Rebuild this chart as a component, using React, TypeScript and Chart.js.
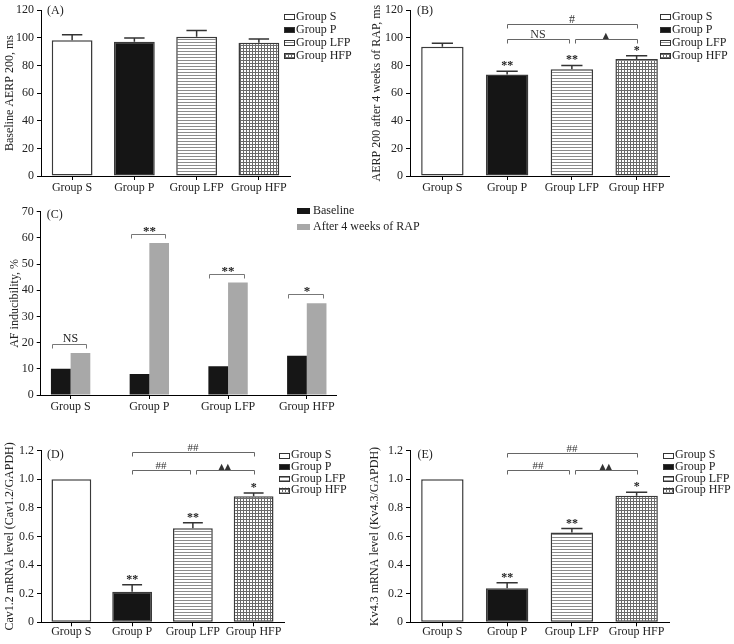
import React, { useEffect, useRef } from 'react';
import { Chart, registerables } from 'chart.js';

Chart.register(...registerables);

const PAGE_W = 734;
const PAGE_H = 644;
const SERIF = "'Liberation Serif', 'Times New Roman', Times, serif";
const SYMBOL = "'DejaVu Sans', sans-serif";
const INK = '#222222';

// ---------------- data ----------------
const groups = ['Group S', 'Group P', 'Group LFP', 'Group HFP'];

// (A) baseline AERP200, ms
const aerpBaseline = [98.2, 97.1, 100.8, 96.4];
const aerpBaselineSD = [4.1, 2.8, 4.5, 2.8];
const ticksAERP = [0, 20, 40, 60, 80, 100, 120];

// (B) AERP200 after 4 weeks of RAP, ms
const aerpRap = [93.5, 73.4, 77.2, 84.7];
const aerpRapSD = [2.6, 2.4, 2.8, 2.4];
const starsB = ['', '**', '**', '*'];
const bracketsB = [
  { from: 1, to: 3, value: 110.3, label: '#' },
  { from: 1, to: 2, value: 99.4, label: 'NS' },
  { from: 2, to: 3, value: 99.4, label: '▲' },
];

// (C) AF inducibility, %
const seriesC = ['Baseline', 'After 4 weeks of RAP'];
const afBaseline = [10, 8, 11, 15];
const afRap = [16, 58, 43, 35];
const ticksC = [0, 10, 20, 30, 40, 50, 60, 70];
const bracketsC = [
  { value: 19.4, label: 'NS' },
  { value: 61.3, label: '**' },
  { value: 46.1, label: '**' },
  { value: 38.4, label: '*' },
];

// (D) Cav1.2 mRNA
const cavMrna = [1.0, 0.213, 0.657, 0.88];
const cavMrnaSD = [0, 0.05, 0.039, 0.023];
const starsD = ['', '**', '**', '*'];
const bracketsD = [
  { from: 1, to: 3, value: 1.19, label: '##' },
  { from: 1, to: 2, value: 1.065, label: '##' },
  { from: 2, to: 3, value: 1.065, label: '▲▲' },
];

// (E) Kv4.3 mRNA
const kvMrna = [1.0, 0.237, 0.627, 0.884];
const kvMrnaSD = [0, 0.039, 0.028, 0.025];
const starsE = ['', '**', '**', '*'];
const bracketsE = [
  { from: 1, to: 3, value: 1.185, label: '##' },
  { from: 1, to: 2, value: 1.065, label: '##' },
  { from: 2, to: 3, value: 1.065, label: '▲▲' },
];
const ticksMrna = [0, 0.2, 0.4, 0.6, 0.8, 1.0, 1.2];

// ---------------- helpers ----------------
const tickFont = { family: SERIF, size: 12 };

function makeFills(ctx: CanvasRenderingContext2D): any[] {
  const stripe = document.createElement('canvas');
  stripe.width = 3;
  stripe.height = 3;
  const s = stripe.getContext('2d')!;
  s.fillStyle = '#ffffff';
  s.fillRect(0, 0, 3, 3);
  s.fillStyle = '#8c8c8c';
  s.fillRect(0, 0, 3, 1);
  const grid = document.createElement('canvas');
  grid.width = 3;
  grid.height = 3;
  const g = grid.getContext('2d')!;
  g.fillStyle = '#ffffff';
  g.fillRect(0, 0, 3, 3);
  g.fillStyle = '#6a6a6a';
  g.fillRect(0, 0, 3, 1);
  g.fillRect(0, 0, 1, 3);
  return ['#ffffff', '#151515', ctx.createPattern(stripe, 'repeat'), ctx.createPattern(grid, 'repeat')];
}

function yScale(title: string, ticks: number[], fmt: (v: number) => string, width: number) {
  return {
    type: 'linear',
    min: ticks[0],
    max: ticks[ticks.length - 1],
    afterBuildTicks: (s: any) => {
      s.ticks = ticks.map((v) => ({ value: v }));
    },
    ticks: { color: INK, font: tickFont, padding: 3, callback: (v: any) => fmt(Number(v)) },
    grid: { drawOnChartArea: false, drawTicks: true, tickLength: 4, color: '#000' },
    border: { display: true, color: '#000', width: 1 },
    title: { display: true, text: title, color: INK, font: tickFont, padding: 0 },
    afterFit: (s: any) => {
      s.width = width;
    },
  };
}

function xAxisCommon(pad: number) {
  return {
    ticks: { color: INK, font: tickFont, padding: pad, maxRotation: 0, minRotation: 0, autoSkip: false },
    grid: { drawOnChartArea: false, drawTicks: true, tickLength: 4, color: '#000', offset: false },
    border: { display: true, color: '#000', width: 1 },
    afterFit: (s: any) => {
      s.height = 20;
    },
  };
}

type Area = { l: number; t: number; r: number; b: number };

function padFor(area: Area, axisWidth: number) {
  return { left: area.l - axisWidth, top: area.t, right: PAGE_W - area.r, bottom: PAGE_H - area.b - 20 };
}

interface BarSpec {
  area: Area;
  axisWidth: number;
  xPad: number;
  title: string;
  panel: string;
  panelPos: [number, number];
  values: number[];
  sd: number[];
  yTicks: number[];
  yFmt: (v: number) => string;
  stars: string[];
  brackets: { from: number; to: number; value: number; label: string }[];
  legendPos: [number, number];
  legendStep: number;
  bracketFont: number;
}

function drawPanelLabel(ctx: CanvasRenderingContext2D, text: string, x: number, y: number) {
  ctx.fillStyle = INK;
  ctx.font = `12px ${SERIF}`;
  ctx.textAlign = 'left';
  ctx.textBaseline = 'middle';
  ctx.fillText(text, x, y);
}

function barOverlay(spec: BarSpec) {
  return {
    id: 'barOverlay',
    afterDatasetsDraw(chart: any) {
      const ctx: CanvasRenderingContext2D = chart.ctx;
      const ys = chart.scales.y;
      const bars = chart.getDatasetMeta(0).data as any[];
      const ca = chart.chartArea;
      const fills = chart.data.datasets[0].backgroundColor as any[];
      ctx.save();
      // error bars
      ctx.strokeStyle = '#333';
      ctx.lineWidth = 1.5;
      spec.values.forEach((v, i) => {
        const sd = spec.sd[i];
        if (!sd) return;
        const b = bars[i];
        const y0 = ys.getPixelForValue(v);
        const y1 = ys.getPixelForValue(v + sd);
        const hw = b.width * 0.25;
        ctx.beginPath();
        ctx.moveTo(b.x, y0);
        ctx.lineTo(b.x, y1);
        ctx.moveTo(b.x - hw, y1);
        ctx.lineTo(b.x + hw, y1);
        ctx.stroke();
      });
      // significance stars
      ctx.fillStyle = INK;
      ctx.textAlign = 'center';
      ctx.textBaseline = 'alphabetic';
      ctx.font = `bold 12px ${SERIF}`;
      spec.stars.forEach((s, i) => {
        if (!s) return;
        const top = ys.getPixelForValue(spec.values[i] + (spec.sd[i] || 0));
        ctx.fillText(s, bars[i].x, top - 2);
      });
      // brackets
      spec.brackets.forEach((br) => {
        const same = spec.brackets.filter((o) => o !== br && o.value === br.value);
        const x1 = bars[br.from].x + (same.some((o) => o.to === br.from) ? 3 : 0);
        const x2 = bars[br.to].x - (same.some((o) => o.from === br.to) ? 3 : 0);
        const y = Math.round(ys.getPixelForValue(br.value)) + 0.5;
        ctx.strokeStyle = '#666';
        ctx.lineWidth = 1;
        ctx.beginPath();
        ctx.moveTo(Math.round(x1) + 0.5, y + 4);
        ctx.lineTo(Math.round(x1) + 0.5, y);
        ctx.lineTo(Math.round(x2) + 0.5, y);
        ctx.lineTo(Math.round(x2) + 0.5, y + 4);
        ctx.stroke();
        ctx.fillStyle = '#333';
        ctx.font = br.label.includes('▲') ? `8px ${SYMBOL}` : `${spec.bracketFont}px ${SERIF}`;
        ctx.fillText(br.label, (x1 + x2) / 2, y - 1.5);
      });
      // legend
      const lx = ca.right + spec.legendPos[0];
      groups.forEach((g, i) => {
        const ly = ca.top + spec.legendPos[1] + i * spec.legendStep;
        ctx.fillStyle = fills[i];
        ctx.fillRect(lx, ly - 2.5, 11, 5);
        ctx.strokeStyle = '#333';
        ctx.lineWidth = 1;
        ctx.strokeRect(lx + 0.5, Math.round(ly - 2.5) + 0.5, 10, 5);
        ctx.fillStyle = INK;
        ctx.font = `12px ${SERIF}`;
        ctx.textAlign = 'left';
        ctx.textBaseline = 'middle';
        ctx.fillText(g, lx + 12, ly);
      });
      drawPanelLabel(ctx, spec.panel, ca.left + spec.panelPos[0], ca.top + spec.panelPos[1]);
      ctx.restore();
    },
  };
}

function barConfig(spec: BarSpec) {
  return (ctx: CanvasRenderingContext2D) => ({
    type: 'bar',
    data: {
      labels: groups,
      datasets: [
        {
          data: spec.values,
          backgroundColor: makeFills(ctx),
          borderColor: '#3a3a3a',
          borderWidth: 1.5,
          borderSkipped: false,
          barPercentage: 0.655,
          categoryPercentage: 1,
        },
      ],
    },
    options: {
      responsive: false,
      animation: false,
      devicePixelRatio: 1,
      events: [],
      layout: { padding: padFor(spec.area, spec.axisWidth) },
      plugins: { legend: { display: false }, tooltip: { enabled: false } },
      scales: {
        x: { type: 'category', offset: true, ...xAxisCommon(spec.xPad) },
        y: yScale(spec.title, spec.yTicks, spec.yFmt, spec.axisWidth),
      },
    },
    plugins: [barOverlay(spec)],
  });
}

const intFmt = (v: number) => String(Math.round(v));
const decFmt = (v: number) => (v === 0 ? '0' : v.toFixed(1));

const buildA = barConfig({
  area: { l: 41, t: 7.3, r: 290, b: 176 },
  axisWidth: 38.2,
  xPad: 1.1,
  title: 'Baseline AERP 200, ms',
  panel: '(A)',
  panelPos: [6, 0.5],
  values: aerpBaseline,
  sd: aerpBaselineSD,
  yTicks: ticksAERP,
  yFmt: intFmt,
  stars: ['', '', '', ''],
  brackets: [],
  legendPos: [-6, 6.7],
  legendStep: 13,
  bracketFont: 12,
});

const buildB = barConfig({
  area: { l: 410, t: 7.3, r: 669, b: 176 },
  axisWidth: 40.5,
  xPad: 1.1,
  title: 'AERP 200 after 4 weeks of RAP, ms',
  panel: '(B)',
  panelPos: [7, 0.5],
  values: aerpRap,
  sd: aerpRapSD,
  yTicks: ticksAERP,
  yFmt: intFmt,
  stars: starsB,
  brackets: bracketsB,
  legendPos: [-9, 6.7],
  legendStep: 13,
  bracketFont: 12,
});

const buildD = barConfig({
  area: { l: 41, t: 450.5, r: 284, b: 622.3 },
  axisWidth: 38.2,
  xPad: -1.8,
  title: 'Cav1.2 mRNA level (Cav1.2/GAPDH)',
  panel: '(D)',
  panelPos: [6, 4.5],
  values: cavMrna,
  sd: cavMrnaSD,
  yTicks: ticksMrna,
  yFmt: decFmt,
  stars: starsD,
  brackets: bracketsD,
  legendPos: [-5, 4.5],
  legendStep: 11.7,
  bracketFont: 11,
});

const buildE = barConfig({
  area: { l: 410, t: 450.5, r: 669, b: 622.3 },
  axisWidth: 42,
  xPad: -1.8,
  title: 'Kv4.3 mRNA level (Kv4.3/GAPDH)',
  panel: '(E)',
  panelPos: [7.5, 4.5],
  values: kvMrna,
  sd: kvMrnaSD,
  yTicks: ticksMrna,
  yFmt: decFmt,
  stars: starsE,
  brackets: bracketsE,
  legendPos: [-6, 4.5],
  legendStep: 11.7,
  bracketFont: 11,
});

const areaC: Area = { l: 40.7, t: 211.7, r: 336.7, b: 395 };
const colorsC = ['#161616', '#a8a8a8'];

const overlayC = {
  id: 'overlayC',
  afterDatasetsDraw(chart: any) {
    const ctx: CanvasRenderingContext2D = chart.ctx;
    const ys = chart.scales.y;
    const m0 = chart.getDatasetMeta(0).data as any[];
    const m1 = chart.getDatasetMeta(1).data as any[];
    const ca = chart.chartArea;
    ctx.save();
    bracketsC.forEach((br, i) => {
      const x1 = Math.round(m0[i].x - m0[i].width / 2 + 1) + 0.5;
      const x2 = Math.round(m1[i].x + m1[i].width * 0.3) + 0.5;
      const y = Math.round(ys.getPixelForValue(br.value)) + 0.5;
      ctx.strokeStyle = '#777';
      ctx.lineWidth = 1;
      ctx.beginPath();
      ctx.moveTo(x1, y + 4);
      ctx.lineTo(x1, y);
      ctx.lineTo(x2, y);
      ctx.lineTo(x2, y + 4);
      ctx.stroke();
      const isStar = br.label.includes('*');
      ctx.fillStyle = INK;
      ctx.textAlign = 'center';
      ctx.textBaseline = 'alphabetic';
      ctx.font = isStar ? `bold 13px ${SERIF}` : `12px ${SERIF}`;
      ctx.fillText(br.label, (x1 + x2) / 2 + 1, isStar ? y + 0.5 : y - 2.5);
    });
    // legend
    const lx = ca.left + 256.3;
    seriesC.forEach((s, i) => {
      const ly = ca.top - 0.7 + i * 16;
      ctx.fillStyle = colorsC[i];
      ctx.fillRect(lx, ly - 3, 13, 6);
      ctx.fillStyle = INK;
      ctx.font = `12px ${SERIF}`;
      ctx.textAlign = 'left';
      ctx.textBaseline = 'middle';
      ctx.fillText(s, lx + 16, ly);
    });
    drawPanelLabel(ctx, '(C)', ca.left + 6, ca.top + 3.5);
    ctx.restore();
  },
};

const buildC = (_ctx: CanvasRenderingContext2D) => ({
  type: 'bar',
  data: {
    datasets: [afBaseline, afRap].map((vals, k) => ({
      label: seriesC[k],
      data: vals.map((y, i) => ({ x: i, y })),
      backgroundColor: colorsC[k],
      borderWidth: 0,
      categoryPercentage: 0.5,
      barPercentage: 1,
    })),
  },
  options: {
    responsive: false,
    animation: false,
    devicePixelRatio: 1,
    events: [],
    layout: { padding: padFor(areaC, 33.2) },
    plugins: { legend: { display: false }, tooltip: { enabled: false } },
    scales: {
      x: {
        type: 'linear',
        offset: false,
        min: -0.38,
        max: 3.38,
        afterBuildTicks: (s: any) => {
          s.ticks = groups.map((_, i) => ({ value: i }));
        },
        ...xAxisCommon(0.5),
        ticks: {
          color: INK,
          font: tickFont,
          padding: 0.5,
          maxRotation: 0,
          minRotation: 0,
          autoSkip: false,
          callback: (v: any) => groups[Math.round(Number(v))] ?? '',
        },
      },
      y: yScale('AF inducibility, %', ticksC, intFmt, 33.2),
    },
  },
  plugins: [overlayC],
});

function Panel({ build }: { build: (ctx: CanvasRenderingContext2D) => any }) {
  const ref = useRef<HTMLCanvasElement | null>(null);
  useEffect(() => {
    const canvas = ref.current!;
    const ctx = canvas.getContext('2d')!;
    const chart = new Chart(canvas, build(ctx));
    return () => chart.destroy();
  }, [build]);
  return (
    <canvas
      ref={ref}
      width={PAGE_W}
      height={PAGE_H}
      style={{ position: 'absolute', left: 0, top: 0, width: PAGE_W, height: PAGE_H }}
    />
  );
}

export default function App() {
  return (
    <div
      style={{
        position: 'absolute',
        left: 0,
        top: 0,
        width: PAGE_W,
        height: PAGE_H,
        background: '#ffffff',
        overflow: 'hidden',
      }}
    >
      <Panel build={buildA} />
      <Panel build={buildB} />
      <Panel build={buildC} />
      <Panel build={buildD} />
      <Panel build={buildE} />
    </div>
  );
}
